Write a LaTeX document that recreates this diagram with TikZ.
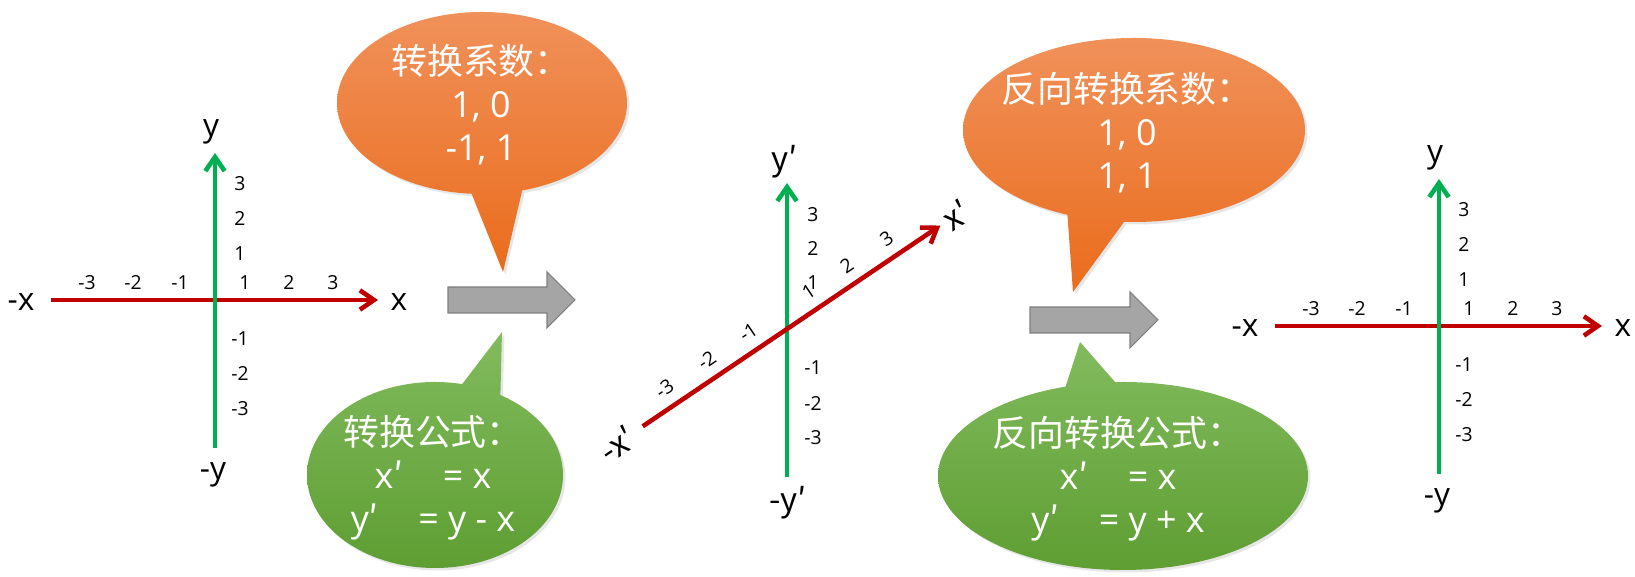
\documentclass[tikz,border=0pt]{standalone}
\usepackage{fontspec}
\setmainfont{Open Sans}
\newfontfamily\cjk{Noto Sans CJK SC}
\newcommand{\prm}{{\cjk ′}}
\usetikzlibrary{arrows.meta,shadows}
\definecolor{axisred}{HTML}{C00000}
\definecolor{axisgreen}{HTML}{00B050}
\definecolor{orangetop}{HTML}{F0915A}
\definecolor{orangebot}{HTML}{EA6C1C}
\definecolor{greentop}{HTML}{82BB5E}
\definecolor{greenbot}{HTML}{5E9E32}
\definecolor{arrowgray}{HTML}{A5A5A5}
\tikzset{
  xaxis/.style={axisred, line width=1.3pt, -{Straight Barb[length=4pt,width=5.5pt]}},
  yaxis/.style={axisgreen, line width=1.3pt, -{Straight Barb[length=4pt,width=5.5pt]}},
  ticklabel/.style={inner sep=0pt, font=\fontsize{5.5pt}{7pt}\selectfont},
  axislabel/.style={inner sep=0pt, font=\fontsize{9pt}{10pt}\selectfont},
  primelabel/.style={inner sep=0pt, font=\cjk\fontsize{9.3pt}{10pt}\selectfont},
  bubbletext/.style={inner sep=0pt, text=white, align=center, font=\fontsize{10.2pt}{12.2pt}\selectfont},
  bubbleshadow/.style={drop shadow={opacity=0.2, shadow xshift=0.7pt, shadow yshift=-0.7pt}},
  orangebubble/.style={top color=orangetop, bottom color=orangebot, bubbleshadow},
  greenbubble/.style={top color=greentop, bottom color=greenbot, bubbleshadow},
  grayarrow/.style={fill=arrowgray, draw=black!50, line width=0.3pt}
}
\begin{document}
\begin{tikzpicture}[x=0.01cm,y=-0.01cm]
  \useasboundingbox (0,0) rectangle (1635,577);
  % original and restored axes
  \foreach \ox/\oy/\nm in {215/300/a, 1439/326/c}{
    \begin{scope}[shift={(\ox,\oy)}]
      \coordinate (\nm-xs) at (-164,0);
      \coordinate (\nm-xe) at (163,0);
      \coordinate (\nm-ys) at (0,148);
      \coordinate (\nm-ye) at (0,-147);
      \draw[xaxis] (\nm-xs) -- (\nm-xe);
      \draw[yaxis] (\nm-ys) -- (\nm-ye);
      \node[axislabel] (\nm-y) at (-4,-168) {y};
      \node[axislabel] (\nm-ny) at (-2,175) {-y};
      \node[axislabel] (\nm-nx) at (-194,2) {-x};
      \node[axislabel] (\nm-x) at (184,2) {x};
      \foreach \t/\lb in {-128/-3,-82/-2,-35/-1,30/1,74/2,118/3}
        \node[ticklabel] (\nm-tx\lb) at (\t,-17) {\lb};
      \foreach \t/\lb in {-116/3,-81/2,-46/1,39/-1,74/-2,109/-3}
        \node[ticklabel] (\nm-ty\lb) at (25,\t) {\lb};
    \end{scope}
  }
  % sheared axes
  \begin{scope}[shift={(787,329)}]
    \coordinate (b-ys) at (0,148);
    \coordinate (b-ye) at (0,-146);
    \draw[yaxis] (b-ys) -- (b-ye);
    \node[primelabel] (b-y) at (-2,-167) {y′};
    \node[primelabel] (b-ny) at (1,174) {-y′};
    \foreach \t/\lb in {-114/3,-80/2,-46/1,39/-1,75/-2,109/-3}
      \node[ticklabel] (b-ty\lb) at (26,\t) {\lb};
    \begin{scope}[rotate=34]
      \coordinate (b-xs) at (-174,0);
      \coordinate (b-xe) at (185,0);
      \draw[xaxis] (b-xs) -- (b-xe);
      \node[primelabel, rotate=34] (b-x) at (204,0) {x′};
      \node[primelabel, rotate=34] (b-nx) at (-205,0) {-x′};
      \foreach \t/\lb in {-135/-3,-84/-2,-34/-1,39/1,85/2,133/3}
        \node[ticklabel, rotate=34] (b-tx\lb) at (\t,-19) {\lb};
    \end{scope}
  \end{scope}
  % big arrows
  \draw[grayarrow] (448,287) -- (547,287) -- (547,272) -- (575,300) -- (547,328) -- (547,313) -- (448,313) -- cycle;
  \draw[grayarrow] (1030,307) -- (1130,307) -- (1130,292) -- (1158,320) -- (1130,348) -- (1130,333) -- (1030,333) -- cycle;
  % callouts
  \path[orangebubble] (482,103) ellipse (145 and 91) (462,170) -- (527,170) -- (503,272) -- cycle;
  \node[bubbletext] (coef1) at (481,105) {{\cjk 转换系数：}\\1, 0\\-1, 1};
  \path[greenbubble] (435,475) ellipse (128 and 93) (450,400) -- (502,332) -- (500,410) -- cycle;
  \node[bubbletext] (form1) at (433,478) {{\cjk 转换公式：}\\x\prm\hspace{1.1em}= x\\y\prm\hspace{1.1em}= y - x};
  \path[orangebubble] (1134,130) ellipse (171 and 92) (1066,195) -- (1140,200) -- (1073,292) -- cycle;
  \node[bubbletext] (coef2) at (1127,133) {{\cjk 反向转换系数：}\\1, 0\\1, 1};
  \path[greenbubble] (1123,476) ellipse (185 and 94) (1058,410) -- (1080,342) -- (1135,405) -- cycle;
  \node[bubbletext] (form2) at (1118,479) {{\cjk 反向转换公式：}\\x\prm\hspace{1.1em}= x\\y\prm\hspace{1.1em}= y + x};
\end{tikzpicture}
\end{document}
